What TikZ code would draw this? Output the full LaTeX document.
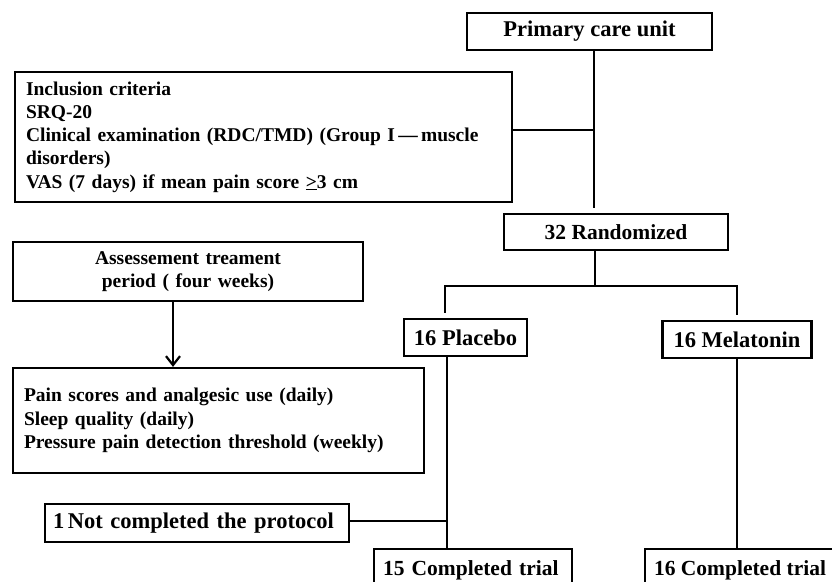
\documentclass[tikz,border=0pt]{standalone}
\usepackage{fontspec}
\setmainfont{Liberation Serif}
\usetikzlibrary{arrows.meta}
\tikzset{
    flowbox/.style={draw, line width=2.2pt, inner sep=0pt, font=\bfseries\fontsize{22.5}{26}\selectfont},
    smallflow/.style={flowbox, font=\bfseries\fontsize{21.5}{25}\selectfont},
    listbox/.style={draw, line width=2.2pt, inner xsep=11pt, inner ysep=0pt, align=left, font=\bfseries\fontsize{19.5}{23.3}\selectfont},
    link/.style={line width=2.2pt}
}
\begin{document}
\begin{tikzpicture}[x=1pt,y=-1pt]
            \path[use as bounding box, clip] (0,0) rectangle (832,581);
            \node[flowbox, minimum width=245pt, minimum height=37pt] (prim) at (589.5,31.5) {Primary care unit};
            \node[listbox, text width=475pt, minimum height=130pt] (incl) at (263.5,137) {Inclusion criteria\\SRQ-20\\Clinical examination (RDC/TMD) (Group I\,—\,muscle\\disorders)\\VAS (7 days) if mean pain score \underline{>}3 cm};
            \node[smallflow, minimum width=224pt, minimum height=36pt] (rand) at (616,232) {32 Randomized};
            \node[listbox, align=center, text width=328pt, minimum height=59pt] (assess) at (188,271.5) {Assessement treament\\period ( four weeks)};
            \node[listbox, text width=389pt, minimum height=105pt] (pain) at (218.5,420.5) {Pain scores and analgesic use (daily)\\Sleep quality (daily)\\Pressure pain detection threshold (weekly)};
            \node[flowbox, minimum width=123pt, minimum height=37pt] (plac) at (465.5,337.5) {16 Placebo};
            \node[flowbox, minimum width=149pt, minimum height=37pt] (mela) at (737,339.5) {16 Melatonin};
            \node[flowbox, minimum width=304pt, minimum height=38pt, text width=288pt, align=left] (notc) at (197,523) {1\,Not completed the protocol};
            \node[smallflow, minimum width=198pt, minimum height=42pt, text width=180pt, align=left] (done15) at (473,570) {15 Completed trial};
            \node[smallflow, minimum width=190pt, minimum height=42pt] (done16) at (740,570) {16 Completed trial};
            \coordinate (j1) at (594,130);
            \coordinate (j2) at (595,286);
            \coordinate (bl) at (445,286);
            \coordinate (br) at (737,286);
            \coordinate (j3) at (447,521);
            \draw[link, shorten >=5pt] (prim.south -| j1) -- (j1 |- rand.north);
            \draw[link] (incl.east |- j1) -- (j1);
            \draw[link] (rand.south -| j2) -- (j2);
            \draw[link, shorten <=5pt, shorten >=5pt] (bl |- plac.north) -- (bl) -- (br) -- (br |- mela.north);
            \draw[link] (plac.south -| j3) -- (j3 |- done15.north);
            \draw[link] (notc.east |- j3) -- (j3);
            \draw[link] (mela.south -| br) -- (br |- done16.north);
            \draw[link, -{Straight Barb[length=9pt, width=14pt]}] ([xshift=-15pt]assess.south) -- ([xshift=-15pt]assess.south |- pain.north);
        \end{tikzpicture}
\end{document}
